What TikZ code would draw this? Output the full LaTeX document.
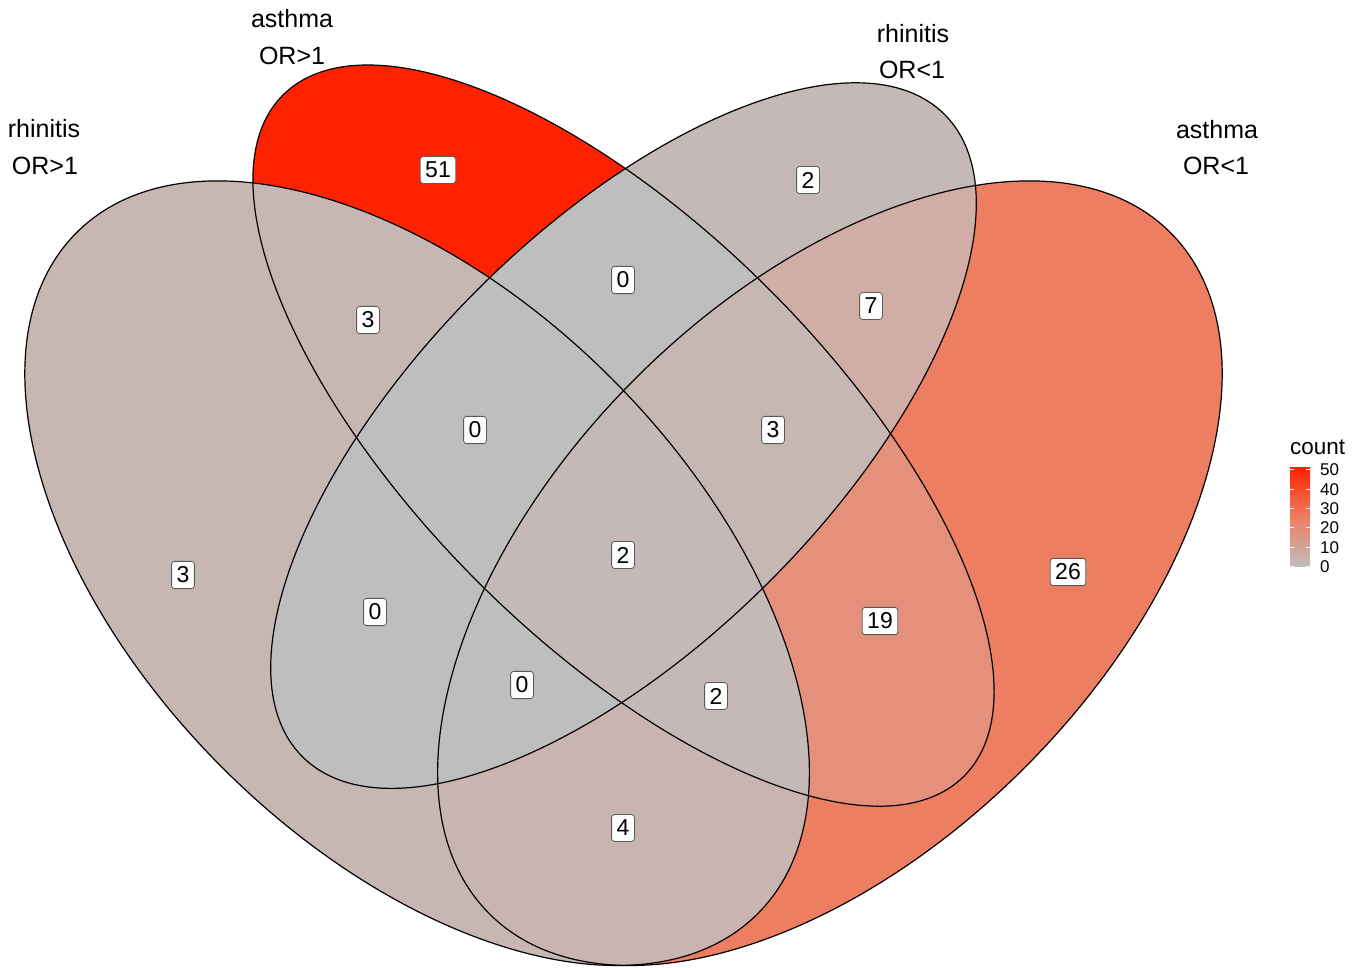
\documentclass[tikz,border=0pt]{standalone}
\usepackage{fontspec}
\setmainfont{Liberation Sans}
\definecolor{cZero}{RGB}{190,190,190}
\definecolor{cTwo}{RGB}{196,185,183}
\definecolor{cThree}{RGB}{198,183,179}
\definecolor{cFour}{RGB}{201,181,175}
\definecolor{cSeven}{RGB}{208,174,165}
\definecolor{cNineteen}{RGB}{229,144,123}
\definecolor{cTwentySix}{RGB}{238,126,98}
\definecolor{cFiftyOne}{RGB}{255,34,0}
\definecolor{lblborder}{RGB}{90,90,90}
\newcommand\inA{\clip[rotate around={-45:(417.1,393.8)}] (417.1,393.8) ellipse (481.6 and 275.2);}
\newcommand\outA{\clip[rotate around={-45:(417.1,393.8)}] (-3000,-3000) rectangle (4000,4000) (417.1,393.8) ellipse (481.6 and 275.2);}
\newcommand\inB{\clip[rotate around={-45:(623.5,531.4)}] (623.5,531.4) ellipse (481.6 and 206.4);}
\newcommand\outB{\clip[rotate around={-45:(623.5,531.4)}] (-3000,-3000) rectangle (4000,4000) (623.5,531.4) ellipse (481.6 and 206.4);}
\newcommand\inC{\clip[rotate around={45:(623.5,531.4)}] (623.5,531.4) ellipse (454.1 and 206.4);}
\newcommand\outC{\clip[rotate around={45:(623.5,531.4)}] (-3000,-3000) rectangle (4000,4000) (623.5,531.4) ellipse (454.1 and 206.4);}
\newcommand\inD{\clip[rotate around={45:(829.9,393.8)}] (829.9,393.8) ellipse (481.6 and 275.2);}
\newcommand\outD{\clip[rotate around={45:(829.9,393.8)}] (-3000,-3000) rectangle (4000,4000) (829.9,393.8) ellipse (481.6 and 275.2);}
\newcommand\vregion[5]{\begin{scope}[even odd rule]#1#2#3#4\fill[#5] (-10,-10) rectangle (1400,1000);\end{scope}}
\begin{document}
\begin{tikzpicture}[x=1pt,y=1pt,
  outline/.style={draw=black,line width=1.2pt},
  cnt/.style={draw=lblborder,fill=white,rounded corners=3pt,line width=0.8pt,inner xsep=5pt,inner ysep=5.5pt,
    font=\fontsize{23}{26}\selectfont,text=black},
  setlbl/.style={anchor=base,inner sep=0pt,font=\fontsize{25}{30}\selectfont,text=black},
  leglbl/.style={anchor=west,inner sep=0pt,font=\fontsize{17}{20}\selectfont,text=black},
  tick/.style={draw=white,line width=0.8pt}]
\useasboundingbox (0,0) rectangle (1365,967);
\fill[white] (0,0) rectangle (1365,967);
% regions
\vregion{\inA}{\outB}{\outC}{\outD}{cThree}
\vregion{\outA}{\inB}{\outC}{\outD}{cFiftyOne}
\vregion{\outA}{\outB}{\inC}{\outD}{cTwo}
\vregion{\outA}{\outB}{\outC}{\inD}{cTwentySix}
\vregion{\inA}{\inB}{\outC}{\outD}{cThree}
\vregion{\outA}{\inB}{\inC}{\outD}{cZero}
\vregion{\outA}{\outB}{\inC}{\inD}{cSeven}
\vregion{\inA}{\outB}{\outC}{\inD}{cFour}
\vregion{\inA}{\inB}{\inC}{\outD}{cZero}
\vregion{\outA}{\inB}{\inC}{\inD}{cThree}
\vregion{\inA}{\outB}{\inC}{\outD}{cZero}
\vregion{\outA}{\inB}{\outC}{\inD}{cNineteen}
\vregion{\inA}{\inB}{\inC}{\inD}{cTwo}
\vregion{\inA}{\outB}{\inC}{\inD}{cZero}
\vregion{\inA}{\inB}{\outC}{\inD}{cTwo}
% outlines
\draw[outline, rotate around={-45:(417.1,393.8)}] (417.1,393.8) ellipse (481.6 and 275.2);
\draw[outline, rotate around={-45:(623.5,531.4)}] (623.5,531.4) ellipse (481.6 and 206.4);
\draw[outline, rotate around={45:(623.5,531.4)}] (623.5,531.4) ellipse (454.1 and 206.4);
\draw[outline, rotate around={45:(829.9,393.8)}] (829.9,393.8) ellipse (481.6 and 275.2);
% count labels
\node[cnt] (nA) at (183,392) {3};
\node[cnt] (nB) at (438,797) {51};
\node[cnt] (nC) at (808,787) {2};
\node[cnt] (nD) at (1068,395) {26};
\node[cnt] (nAB) at (368,647) {3};
\node[cnt] (nBC) at (623,687) {0};
\node[cnt] (nCD) at (871,661) {7};
\node[cnt] (nAD) at (623,139) {4};
\node[cnt] (nABC) at (475,537) {0};
\node[cnt] (nBCD) at (773,537) {3};
\node[cnt] (nAC) at (375,355) {0};
\node[cnt] (nBD) at (880,346) {19};
\node[cnt] (nABCD) at (623,412) {2};
\node[cnt] (nACD) at (522,282) {0};
\node[cnt] (nABD) at (716,271) {2};
% set labels
\node[setlbl] (sA1) at (44,829) {rhinitis};
\node[setlbl] (sA2) at (45,792.5) {OR>1};
\node[setlbl] (sB1) at (292,939) {asthma};
\node[setlbl] (sB2) at (292,902.5) {OR>1};
\node[setlbl] (sC1) at (913,924.7) {rhinitis};
\node[setlbl] (sC2) at (912,888.7) {OR<1};
\node[setlbl] (sD1) at (1217,828.7) {asthma};
\node[setlbl] (sD2) at (1216,792.7) {OR<1};
% legend
\node[anchor=base west,inner sep=0pt,font=\fontsize{22.5}{26}\selectfont] (legtitle) at (1290,512) {count};
\shade[bottom color=cZero, top color=cFiftyOne, middle color=cTwentySix] (1290,400) rectangle (1310,499);
\foreach \yy/\lab/\nm in {400.5/0/l0,419.8/10/l1,439.2/20/l2,458.5/30/l3,477.8/40/l4,497.1/50/l5}{
  \draw[tick] (1290,\yy) -- (1294,\yy);
  \draw[tick] (1306,\yy) -- (1310,\yy);
  \node[leglbl] (\nm) at (1320,\yy) {\lab};
}
\end{tikzpicture}
\end{document}
